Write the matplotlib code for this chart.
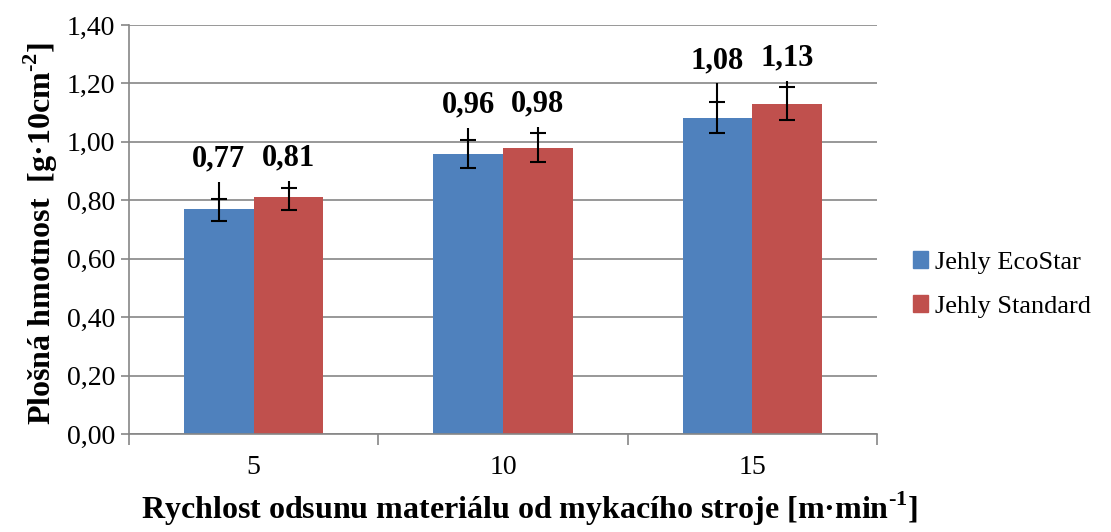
import numpy as np
import matplotlib
matplotlib.use("Agg")
import matplotlib.pyplot as plt
from matplotlib.patches import Patch

plt.rcParams['font.family'] = ['Liberation Serif', 'DejaVu Serif']
plt.rcParams['mathtext.fontset'] = 'custom'
plt.rcParams['mathtext.rm'] = 'Liberation Serif:bold'
plt.rcParams['mathtext.bf'] = 'Liberation Serif:bold'

# --- Data ---
categories = ['5', '10', '15']
series_names = ['Jehly EcoStar', 'Jehly Standard']
ecostar = [0.77, 0.96, 1.08]
standard = [0.81, 0.98, 1.13]
# error bars (as drawn in the source): lower end, middle cap, upper end
eco_low = [0.729, 0.910, 1.029]
eco_mid = [0.805, 1.006, 1.138]
eco_high = [0.863, 1.047, 1.200]
std_low = [0.767, 0.932, 1.075]
std_mid = [0.843, 1.029, 1.187]
std_high = [0.867, 1.052, 1.209]
yticks = [0.0, 0.2, 0.4, 0.6, 0.8, 1.0, 1.2, 1.4]
ytick_labels = ['0,00', '0,20', '0,40', '0,60', '0,80', '1,00', '1,20', '1,40']

colors = ['#4F81BD', '#C0504D']
grey = '#868686'

fig = plt.figure(figsize=(11.11, 5.32), dpi=100)
ax = fig.add_axes([0.1161, 0.1842, 0.6733, 0.7688])

x = np.arange(len(categories))
w = 0.28
series = [
    (ecostar, eco_low, eco_mid, eco_high, -w / 2),
    (standard, std_low, std_mid, std_high, w / 2),
]
for i, (vals, lo, mid, hi, off) in enumerate(series):
    ax.bar(x + off, vals, width=w, color=colors[i], zorder=2)
    ax.vlines(x + off, lo, hi, color='black', lw=1.5, zorder=3)
    ax.plot(x + off, lo, ls='none', marker='_', ms=12, mew=1.5, color='black', zorder=3)
    ax.plot(x + off, mid, ls='none', marker='_', ms=12, mew=1.5, color='black', zorder=3)
    for xi, v, h in zip(x + off, vals, hi):
        ax.annotate(f"{v:.2f}".replace('.', ','), (xi, h), xytext=(0, 6),
                    textcoords='offset points', ha='center', va='bottom',
                    fontsize=22, fontweight='bold')

ax.set_ylim(0, 1.4)
ax.set_xlim(-0.5, len(categories) - 0.5)
ax.set_yticks(yticks)
ax.set_yticklabels(ytick_labels, fontsize=20)
ax.yaxis.grid(True, color=grey, lw=1.2, zorder=0)
ax.set_axisbelow(True)

ax.set_xticks(np.arange(len(categories) + 1) - 0.5)
ax.set_xticklabels([])
ax.set_xticks(x, minor=True)
ax.set_xticklabels(categories, minor=True, fontsize=20)
ax.tick_params(axis='x', which='minor', length=0, pad=15)
ax.tick_params(axis='x', which='major', length=8, color=grey, width=1.2)
ax.tick_params(axis='y', length=6, color=grey, width=1.2, pad=4)

for s in ['top', 'right']:
    ax.spines[s].set_visible(False)
for s in ['left', 'bottom']:
    ax.spines[s].set_color(grey)
    ax.spines[s].set_linewidth(1.2)

ax.set_ylabel(r'Plošná hmotnost  [g·10cm$^{\text{-2}}$]', fontsize=23, fontweight='bold', labelpad=5)
ax.yaxis.label.set_y(0.49)
ax.set_xlabel(r'Rychlost odsunu materiálu od mykacího stroje [m·min$^{\text{-1}}$]',
              fontsize=23, fontweight='bold', labelpad=7)
ax.xaxis.label.set_x(0.536)

handles = [Patch(color=c) for c in colors]
fig.legend(handles, series_names, loc='center left', bbox_to_anchor=(0.8, 0.465),
           frameon=False, fontsize=19, handlelength=0.6, handleheight=0.6,
           handletextpad=0.25, labelspacing=0.8)

fig.savefig('out.png', dpi=100)
